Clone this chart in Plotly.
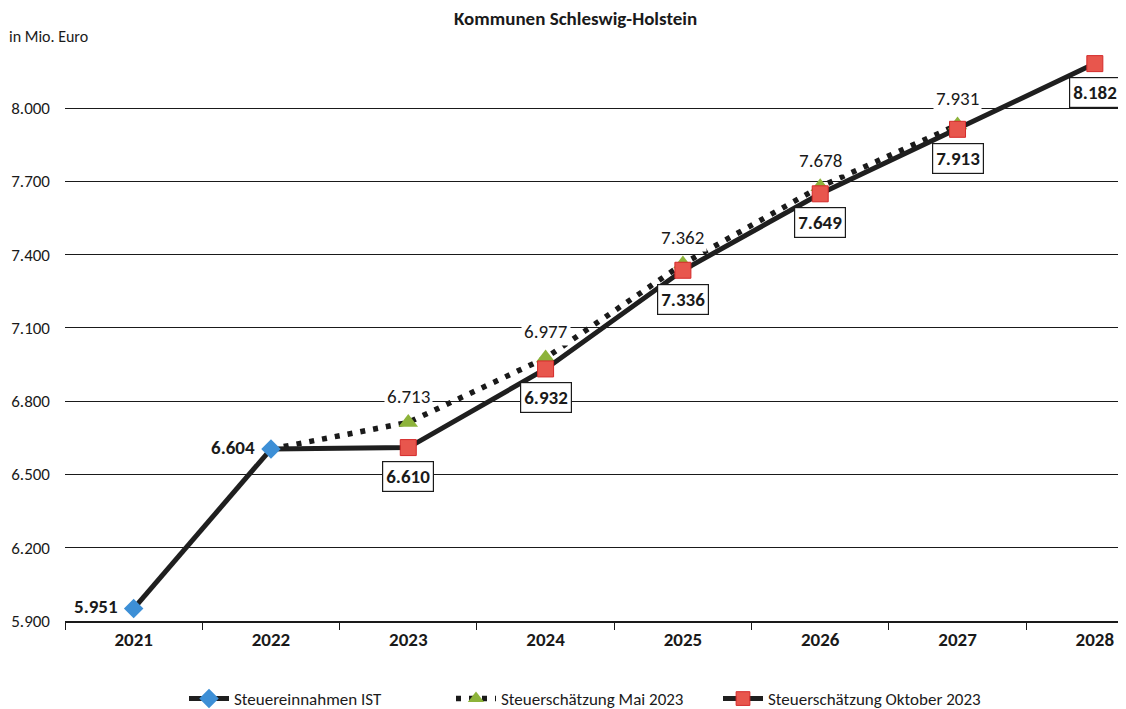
import plotly.graph_objects as go

years = ["2021", "2022", "2023", "2024", "2025", "2026", "2027", "2028"]
ist_years = ["2021", "2022"]
ist_vals = [5951, 6604]
mai_years = ["2022", "2023", "2024", "2025", "2026", "2027"]
mai_vals = [6604, 6713, 6977, 7362, 7678, 7931]
okt_years = ["2022", "2023", "2024", "2025", "2026", "2027", "2028"]
okt_vals = [6604, 6610, 6932, 7336, 7649, 7913, 8182]
y_ticks = [5900, 6200, 6500, 6800, 7100, 7400, 7700, 8000]


def de(v):
    return f"{v:,}".replace(",", ".")


FONT = "Carlito, Lato, Liberation Sans Narrow, Liberation Sans, Arial"
INK = "#1a1a1a"

OFF = 8  # page body margin
W, H = 1126 - OFF, 709 - OFF
# margins expressed in figure pixels (reference pixels minus page offset)
L, R, T = 65 - OFF, 0, 47 - OFF
B = H - (621 - OFF)

fig = go.Figure()

fig.add_trace(go.Scatter(
    x=mai_years, y=mai_vals, mode="lines+markers", name="Steuerschätzung Mai 2023",
    line=dict(color=INK, width=5.5, dash="5px,8px"),
    marker=dict(symbol="triangle-up", color="#8db33a", opacity=1,
                size=[0] + [17] * (len(mai_vals) - 1), line=dict(width=0)),
    legendrank=2, cliponaxis=False,
))
fig.add_trace(go.Scatter(
    x=okt_years, y=okt_vals, mode="lines+markers", name="Steuerschätzung Oktober 2023",
    line=dict(color="#1f1f1f", width=5),
    marker=dict(symbol="square", color="#e8564d", opacity=1,
                size=[0] + [16] * (len(okt_vals) - 1),
                line=dict(color="#d42a2a", width=1)),
    legendrank=3, cliponaxis=False,
))
fig.add_trace(go.Scatter(
    x=ist_years, y=ist_vals, mode="lines+markers", name="Steuereinnahmen IST",
    line=dict(color="#1f1f1f", width=5),
    marker=dict(symbol="diamond", color="#3d8fd6", size=15, opacity=1),
    legendrank=1, cliponaxis=False,
))

annotations = []
for x, v in zip(ist_years, ist_vals):
    annotations.append(dict(x=years.index(x), y=v, xref="x", yref="y", text=f"<b>{de(v)}</b>",
                            showarrow=False, xanchor="right", xshift=-14, yshift=2,
                            font=dict(family=FONT, size=19, color=INK)))
for x, v in zip(mai_years[1:], mai_vals[1:]):
    annotations.append(dict(x=years.index(x), y=v, xref="x", yref="y", text=de(v),
                            showarrow=False, yshift=26, bgcolor="white", borderpad=2,
                            font=dict(family=FONT, size=19, color=INK)))
for x, v in zip(okt_years[1:], okt_vals[1:]):
    annotations.append(dict(x=years.index(x), y=v, xref="x", yref="y", text=f"<b>{de(v)}</b>",
                            showarrow=False, yshift=-29, bgcolor="white",
                            bordercolor=INK, borderwidth=1.2, borderpad=3,
                            font=dict(family=FONT, size=19, color=INK)))


def px_x(px):
    return (px - OFF - L) / (W - L - R)


def px_y(py):
    return 1 - (py - OFF - T) / (H - T - B)


annotations.append(dict(x=px_x(575), y=px_y(18), xref="paper", yref="paper",
                        xanchor="center", yanchor="middle",
                        text="<b>Kommunen Schleswig-Holstein</b>",
                        showarrow=False, font=dict(family=FONT, size=19, color=INK)))
annotations.append(dict(x=px_x(7), y=px_y(37), xref="paper", yref="paper", text="in Mio. Euro",
                        xanchor="left", yanchor="middle", showarrow=False,
                        font=dict(family=FONT, size=16, color=INK)))

fig.update_layout(
    width=W, height=H,
    margin=dict(l=L, r=R, t=T, b=B, autoexpand=False),
    paper_bgcolor="white", plot_bgcolor="white",
    font=dict(family=FONT, color=INK),
    annotations=annotations,
    showlegend=True,
    legend=dict(orientation="h", x=px_x(184), xanchor="left", y=px_y(699), yanchor="middle",
                font=dict(family=FONT, size=17, color=INK), bgcolor="rgba(0,0,0,0)",
                itemwidth=40, tracegroupgap=0, entrywidth=212),
    xaxis=dict(type="category", categoryorder="array", categoryarray=years,
               range=[-0.5, 7.227], showgrid=False, showline=True, linecolor=INK,
               linewidth=1.5, ticks="outside", tickson="boundaries", ticklen=7,
               tickcolor=INK, tickfont=dict(family=FONT, size=19, color=INK),
               tickprefix="<b>", ticksuffix="</b>", zeroline=False, automargin=False),
    yaxis=dict(range=[5900, 8250], tickvals=y_ticks, ticktext=[de(v) for v in y_ticks],
               showgrid=True, gridcolor=INK, gridwidth=1, showline=False,
               zeroline=False, ticklabelstandoff=14, automargin=False,
               tickfont=dict(family=FONT, size=17, color=INK)),
)

fig.write_html("out.html")
